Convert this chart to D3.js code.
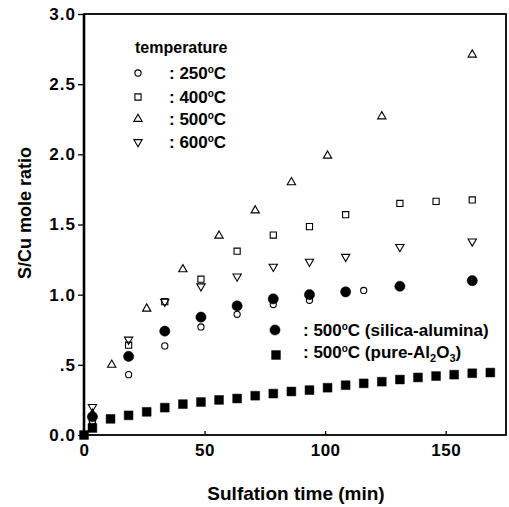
<!DOCTYPE html>
<html>
<head>
<meta charset="utf-8">
<script src="https://cdn.jsdelivr.net/npm/d3@7"></script>
<style>
  body { margin: 0; background: #fff; }
  text { font-family: "Liberation Sans", Arial, sans-serif; font-weight: bold; fill: #000; }
</style>
</head>
<body>
<div id="visual"></div>
<script>
// series (time in min, S/Cu mole ratio)
const t250 = [3.5, 18.5, 33.5, 48.5, 63.5, 78.5, 93.5, 116];
const v250 = [0.1, 0.43, 0.635, 0.77, 0.86, 0.93, 0.96, 1.03];

const t400 = [3.5, 18.5, 33.5, 48.5, 63.5, 78.5, 93.5, 108.5, 131, 146, 161];
const v400 = [0.095, 0.64, 0.95, 1.11, 1.31, 1.425, 1.485, 1.57, 1.65, 1.665, 1.675];

const t500 = [3.5, 11.5, 26, 41, 56, 71, 86, 101, 123.5, 161];
const v500 = [0.15, 0.5, 0.9, 1.18, 1.42, 1.6, 1.8, 1.99, 2.27, 2.71];

const t600 = [3.5, 18.5, 33.5, 48.5, 63.5, 78.5, 93.5, 108.5, 131, 161];
const v600 = [0.2, 0.68, 0.95, 1.06, 1.13, 1.2, 1.235, 1.27, 1.34, 1.38];

const tSilica = [3.5, 18.5, 33.5, 48.5, 63.5, 78.5, 93.5, 108.5, 131, 161];
const vSilica = [0.13, 0.56, 0.74, 0.84, 0.92, 0.97, 1.0, 1.02, 1.06, 1.1];

const tPure = [0, 3.5, 11, 18.5, 26, 33.5, 41, 48.5, 56, 63.5, 71, 78.5, 86, 93.5, 101, 108.5, 116, 123.5, 131, 138.5, 146, 153.5, 161, 168.5];
const vPure = [0, 0.05, 0.115, 0.14, 0.165, 0.195, 0.22, 0.235, 0.25, 0.26, 0.28, 0.295, 0.31, 0.32, 0.337, 0.355, 0.368, 0.38, 0.395, 0.41, 0.42, 0.43, 0.44, 0.445];

const xTicks = [0, 50, 100, 150];
const yTicks = [0, 0.5, 1.0, 1.5, 2.0, 2.5, 3.0];
const yTickLabels = ["0.0", ".5", "1.0", "1.5", "2.0", "2.5", "3.0"];

const tempLabels = ["250", "400", "500", "600"];

let width = 509, height = 507;
let margin = {top: 14, right: 3, bottom: 72, left: 84};
let w = width - margin.left - margin.right,
    h = height - margin.top - margin.bottom;

let svg = d3.select("#visual").append("svg")
    .attr("width", width)
    .attr("height", height);

let g = svg.append("g")
    .attr("transform", "translate(" + margin.left + "," + margin.top + ")");

let x = d3.scaleLinear().domain([0, 175]).range([0, w]);
let y = d3.scaleLinear().domain([0, 3]).range([h, 0]);

// marker styles
let shapes = {
    c250: {type: d3.symbolCircle, size: 30, fill: "none", rot: 0},
    c400: {type: d3.symbolSquare, size: 38, fill: "none", rot: 0},
    c500: {type: d3.symbolTriangle, size: 30, fill: "none", rot: 0},
    c600: {type: d3.symbolTriangle, size: 30, fill: "none", rot: 180},
    silica: {type: d3.symbolCircle, size: 82, fill: "#000", rot: 0},
    pure: {type: d3.symbolSquare, size: 78, fill: "#000", rot: 0}
};

function drawMarker(sel, s, px, py) {
    sel.append("path")
        .attr("d", d3.symbol().type(s.type).size(s.size)())
        .attr("transform", "translate(" + px + "," + py + ") rotate(" + s.rot + ")")
        .attr("fill", s.fill)
        .attr("stroke", "#000")
        .attr("stroke-width", s.fill === "none" ? 1.1 : 0.5);
}

let series = [
    {t: tPure, v: vPure, s: shapes.pure},
    {t: t250, v: v250, s: shapes.c250},
    {t: t400, v: v400, s: shapes.c400},
    {t: t600, v: v600, s: shapes.c600},
    {t: t500, v: v500, s: shapes.c500},
    {t: tSilica, v: vSilica, s: shapes.silica}
];

series.forEach(function (sr) {
    sr.t.forEach(function (t, i) {
        drawMarker(g, sr.s, x(t), y(sr.v[i]));
    });
});

// axes
let xAxis = g.append("g")
    .attr("transform", "translate(0," + h + ")")
    .call(d3.axisBottom(x).tickValues(xTicks).tickSize(-4).tickPadding(9).tickFormat(d3.format("d")));
xAxis.select(".domain").remove();
xAxis.selectAll("text").style("font-size", "17px").style("letter-spacing", "0.5px").attr("dy", "0.71em");
xAxis.selectAll("line").attr("stroke-width", 1.3);

let yAxis = g.append("g")
    .call(d3.axisLeft(y).tickValues(yTicks).tickSize(6).tickPadding(2)
        .tickFormat(function (d, i) { return yTickLabels[i]; }));
yAxis.select(".domain").remove();
yAxis.selectAll("text").style("font-size", "17px").style("letter-spacing", "1px");
yAxis.selectAll("line").attr("stroke-width", 1.3);

// frame
g.append("rect")
    .attr("width", w)
    .attr("height", h)
    .attr("fill", "none")
    .attr("stroke", "#000")
    .attr("stroke-width", 1.8);
g.append("line")
    .attr("x1", 0).attr("x2", 0).attr("y1", 0).attr("y2", h)
    .attr("stroke", "#000").attr("stroke-width", 2.6);

// axis titles
svg.append("text")
    .attr("x", 296)
    .attr("y", 500)
    .attr("text-anchor", "middle")
    .style("font-size", "19px")
    .text("Sulfation time (min)");

svg.append("text")
    .attr("transform", "translate(31,213) rotate(-90)")
    .attr("text-anchor", "middle")
    .style("font-size", "18px")
    .text("S/Cu mole ratio");

// temperature legend
svg.append("text")
    .attr("x", 135).attr("y", 53)
    .style("font-size", "16px")
    .text("temperature");

let tempShapes = [shapes.c250, shapes.c400, shapes.c500, shapes.c600];
let legRows = [73, 97, 119, 142];
tempLabels.forEach(function (lab, i) {
    drawMarker(svg, tempShapes[i], 138, legRows[i]);
    let tx = svg.append("text")
        .attr("x", 169).attr("y", legRows[i] + 6)
        .style("font-size", "17px");
    tx.append("tspan").text(": " + lab);
    tx.append("tspan").attr("dy", -6).style("font-size", "10px").text("o");
    tx.append("tspan").attr("dy", 6).text("C");
});

// support legend
drawMarker(svg, shapes.silica, 275, 330);
let l1 = svg.append("text").attr("x", 303).attr("y", 336).style("font-size", "17px");
l1.append("tspan").text(": 500");
l1.append("tspan").attr("dy", -6).style("font-size", "10px").text("o");
l1.append("tspan").attr("dy", 6).text("C (silica-alumina)");

drawMarker(svg, shapes.pure, 276, 355);
let l2 = svg.append("text").attr("x", 303).attr("y", 358).style("font-size", "17px");
l2.append("tspan").text(": 500");
l2.append("tspan").attr("dy", -6).style("font-size", "10px").text("o");
l2.append("tspan").attr("dy", 6).text("C (pure-Al");
l2.append("tspan").attr("dy", 4).style("font-size", "11px").text("2");
l2.append("tspan").attr("dy", -4).text("O");
l2.append("tspan").attr("dy", 4).style("font-size", "11px").text("3");
l2.append("tspan").attr("dy", -4).text(")");
</script>
</body>
</html>
